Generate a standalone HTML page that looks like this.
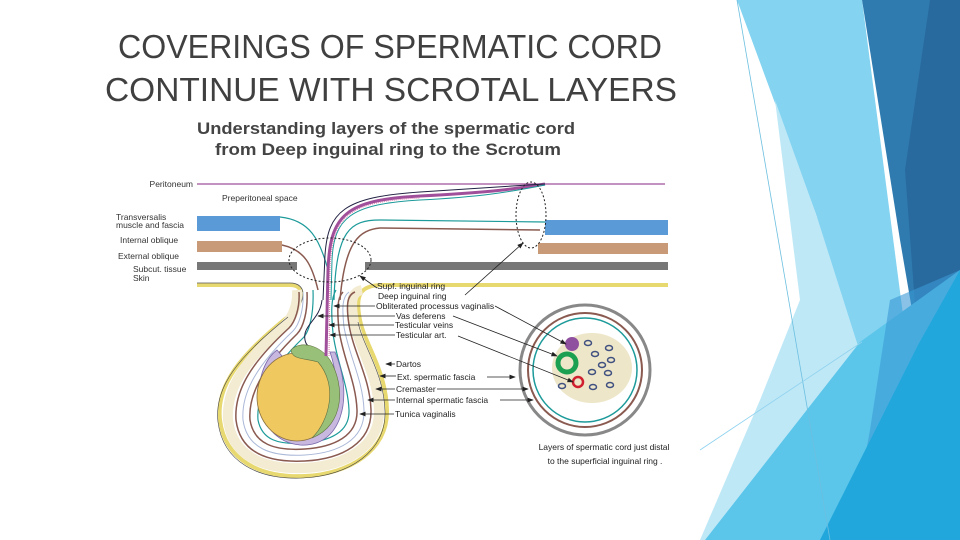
<!DOCTYPE html>
<html><head><meta charset="utf-8"><style>
html,body{margin:0;padding:0;background:#fff;}
body{width:960px;height:540px;overflow:hidden;position:relative;font-family:"Liberation Sans",sans-serif;}
.t{position:absolute;left:0;width:780px;text-align:center;color:#404040;font-size:34px;line-height:34px;white-space:nowrap;}
.t span{display:inline-block;}
</style></head><body>
<svg width="960" height="540" style="position:absolute;left:0;top:0">
<defs>
<marker id="a" markerWidth="8" markerHeight="6" refX="7" refY="3" orient="auto"><path d="M0,0L8,3L0,6z" fill="#222"/></marker>
</defs>
<polygon points="737,0 862,0 905,330 880,540 840,540 817,217" fill="#83d3f1"/>
<polygon points="775,100 817,217 872,390 790,470 735,540 700,540 760,400 800,300" fill="#bfe8f7"/>
<polygon points="862,0 960,0 960,270 918,345 900,240" fill="#2f7bb0"/>
<polygon points="930,0 960,0 960,270 918,345 905,170" fill="#286a9e"/>
<polygon points="860,342 960,270 960,540 705,540" fill="#5bc5ea"/>
<polygon points="890,300 960,270 960,540 850,540 870,430" fill="#3a9ad6" opacity="0.6"/>
<polygon points="918,345 960,270 960,540 820,540" fill="#22a7dc"/>
<line x1="737" y1="0" x2="830" y2="540" stroke="#6cbfe0" stroke-width="0.8"/>
<line x1="700" y1="450" x2="862" y2="342" stroke="#8fd2ee" stroke-width="0.8"/>

<text x="386" y="134" font-size="17" font-weight="bold" fill="#444" text-anchor="middle" textLength="378" lengthAdjust="spacingAndGlyphs">Understanding layers of the spermatic cord</text>
<text x="388" y="155" font-size="17" font-weight="bold" fill="#444" text-anchor="middle" textLength="346" lengthAdjust="spacingAndGlyphs">from Deep inguinal ring to the Scrotum</text>

<g font-size="8.5" fill="#333">
<text x="193" y="187" text-anchor="end">Peritoneum</text>
<text x="222" y="201">Preperitoneal space</text>
<text x="116" y="220">Transversalis</text>
<text x="116" y="228">muscle and fascia</text>
<text x="120" y="243">Internal oblique</text>
<text x="118" y="259">External oblique</text>
<text x="133" y="272">Subcut. tissue</text>
<text x="133" y="281">Skin</text>
</g>
<line x1="197" y1="184" x2="665" y2="184" stroke="#a0509a" stroke-width="1.2"/>
<rect x="197" y="216" width="83" height="15" fill="#5a9ad6"/>
<rect x="545" y="220" width="123" height="15" fill="#5a9ad6"/>
<rect x="197" y="241" width="85" height="11" fill="#c89a78"/>
<rect x="538" y="243" width="130" height="11" fill="#c89a78"/>
<rect x="197" y="262" width="100" height="8" fill="#777"/>
<rect x="365" y="262" width="303" height="8" fill="#777"/>
<path d="M280,217 C310,220 320,240 328,270" stroke="#1d9a9a" fill="none" stroke-width="1.2"/>
<path d="M282,245 C305,250 312,265 318,290" stroke="#8a5a50" fill="none" stroke-width="1.5"/>
<path d="M340,300 C345,240 360,230 380,228 L540,230" stroke="#8a5a50" fill="none" stroke-width="1.5"/>
<path d="M334,300 C336,230 350,220 380,220 L545,222" stroke="#1d9a9a" fill="none" stroke-width="1.2"/>
<path d="M197,285 L290,285 C305,285 305,300 290,315 C240,355 216,385 220,420 C225,460 260,478 305,476 C350,474 388,450 387,410 C386,370 365,345 360,320 C355,295 360,286 380,285 L668,285" stroke="#e8d870" stroke-width="4" fill="none"/>
<path d="M197,283 L290,283 C307,283 307,300 292,315" stroke="#555" stroke-width="0.8" fill="none"/>
<path d="M297,290 C298,305 292,318 285,325 C245,360 226,388 228,420 C232,455 262,470 305,468 C345,466 380,447 379,410 C378,375 360,350 354,322 C350,300 352,292 362,290" stroke="#f3ecd2" stroke-width="10" fill="none"/>
<path d="M299,292 C300,308 295,322 289,328 C252,362 234,390 236,420 C240,452 266,463 305,461 C342,459 372,443 371,410 C370,378 354,354 349,325 C346,305 347,295 355,292" stroke="#8a5a50" stroke-width="1.5" fill="none"/>
<path d="M303,292 C304,310 299,325 293,331 C258,364 241,392 243,420 C247,448 270,457 305,455 C338,453 365,440 364,410 C363,380 349,356 344,327 C342,308 342,297 349,292" stroke="#aab8d8" stroke-width="1" fill="none"/>
<path d="M307,292 C308,312 303,328 297,334 C264,366 248,394 250,420 C254,444 274,451 305,449 C334,447 358,436 357,410 C356,382 343,358 339,330 C337,310 337,298 343,292" stroke="#8a5a50" stroke-width="1.5" fill="none"/>
<path d="M313,290 C314,315 309,332 303,338 C272,368 256,396 258,420 C262,440 278,445 305,443 C330,441 350,432 349,410 C348,384 336,360 333,333 C331,312 331,298 336,290" stroke="#1d9a9a" stroke-width="1.2" fill="none"/>
<path d="M290,315 C240,355 216,385 220,420 C225,460 260,478 305,476 C350,474 388,450 387,410 C386,370 365,345 360,320" stroke="#444" stroke-width="0.6" fill="none" transform="translate(-2,2)"/>
<path d="M322,300 C320,320 302,325 305,340 C307,350 315,345 315,352" stroke="#224" stroke-width="1" fill="none"/>
<path d="M277,350 C250,370 250,440 300,445 C340,448 355,400 335,352 L330,352 C345,395 330,440 300,438 C262,435 262,375 282,356 Z" fill="#c8b8e0" stroke="#7766aa" stroke-width="0.8"/>
<ellipse cx="297" cy="397" rx="40" ry="44" fill="#f0c860" stroke="#8a7040" stroke-width="0.8"/>
<path d="M291,350 C300,340 320,345 330,360 C345,385 345,425 312,438 C330,420 338,385 318,362 C305,358 292,360 291,350 Z" fill="#98c078" stroke="#607040" stroke-width="0.6"/>
<path d="M326,356 L328,270 C330,215 345,200 420,196 C480,193 510,190 545,184" stroke="#a0509a" stroke-width="3" fill="none"/>
<path d="M323,300 L325,255 C328,212 343,197 420,192 C480,188 510,186 545,184" stroke="#224" stroke-width="1" fill="none"/>
<path d="M331,300 L332,260 C334,218 350,204 420,200 C480,197 510,192 545,185" stroke="#1d9a9a" stroke-width="1" fill="none"/>
<path d="M329,356 L330,270 C332,216 347,202 420,198" stroke="#e080b0" stroke-width="1" stroke-dasharray="1,1" fill="none"/>
<ellipse cx="330" cy="260" rx="41" ry="22" stroke="#222" stroke-width="1" stroke-dasharray="2,2" fill="none"/>
<ellipse cx="531" cy="215" rx="15" ry="33" stroke="#222" stroke-width="1" stroke-dasharray="2,2" fill="none"/>
<circle cx="585" cy="370" r="65" fill="#fff" stroke="#888" stroke-width="3"/>
<circle cx="585" cy="370" r="57" fill="none" stroke="#8a5a50" stroke-width="2"/>
<circle cx="585" cy="370" r="52" fill="none" stroke="#1d9a9a" stroke-width="1.5"/>
<ellipse cx="592" cy="368" rx="40" ry="35" fill="#ede6c8"/>
<circle cx="572" cy="344" r="7" fill="#9050a0"/>
<circle cx="567" cy="363" r="9" fill="none" stroke="#1aa050" stroke-width="5"/>
<circle cx="578" cy="382" r="5" fill="none" stroke="#d02030" stroke-width="2.5"/>
<g fill="none" stroke="#405080" stroke-width="1.5">
<ellipse cx="588" cy="343" rx="3.5" ry="2.5"/><ellipse cx="609" cy="348" rx="3.5" ry="2.5"/>
<ellipse cx="595" cy="354" rx="3.5" ry="2.5"/><ellipse cx="611" cy="360" rx="3.5" ry="2.5"/>
<ellipse cx="592" cy="372" rx="3.5" ry="2.5"/><ellipse cx="608" cy="373" rx="3.5" ry="2.5"/>
<ellipse cx="593" cy="387" rx="3.5" ry="2.5"/><ellipse cx="610" cy="385" rx="3.5" ry="2.5"/>
<ellipse cx="562" cy="386" rx="3.5" ry="2.5"/><ellipse cx="602" cy="365" rx="3.5" ry="2.5"/>
</g>
<g font-size="8.5" fill="#222">
<text x="377" y="289">Supf. inguinal ring</text>
<text x="378" y="299">Deep inguinal ring</text>
<text x="376" y="309">Obliterated processus vaginalis</text>
<text x="396" y="319">Vas deferens</text>
<text x="395" y="328">Testicular veins</text>
<text x="396" y="338">Testicular art.</text>
<text x="396" y="367">Dartos</text>
<text x="397" y="380">Ext. spermatic fascia</text>
<text x="396" y="392">Cremaster</text>
<text x="396" y="403">Internal spermatic fascia</text>
<text x="395" y="417">Tunica vaginalis</text>
<text x="604" y="450" text-anchor="middle">Layers of spermatic cord just distal</text>
<text x="605" y="464" text-anchor="middle">to the superficial inguinal ring .</text>
</g>
<g stroke="#222" stroke-width="0.8" fill="none" marker-end="url(#a)">
<line x1="377" y1="288" x2="360" y2="276"/>
<line x1="465" y1="295" x2="523" y2="243"/>
<line x1="375" y1="306" x2="334" y2="306"/>
<line x1="395" y1="316" x2="318" y2="316"/>
<line x1="394" y1="325" x2="329" y2="325"/>
<line x1="395" y1="335" x2="330" y2="335"/>
<line x1="495" y1="306" x2="566" y2="344"/>
<line x1="453" y1="316" x2="557" y2="356"/>
<line x1="458" y1="336" x2="573" y2="382"/>
<line x1="395" y1="364" x2="386" y2="364"/>
<line x1="396" y1="376" x2="380" y2="376"/>
<line x1="395" y1="389" x2="376" y2="389"/>
<line x1="395" y1="400" x2="368" y2="400"/>
<line x1="394" y1="414" x2="360" y2="414"/>
<line x1="487" y1="377" x2="515" y2="377"/>
<line x1="437" y1="389" x2="528" y2="389"/>
<line x1="500" y1="400" x2="533" y2="400"/>
</g>
<text x="390" y="58" font-size="33" fill="#404040" text-anchor="middle" textLength="544" lengthAdjust="spacingAndGlyphs">COVERINGS OF SPERMATIC CORD</text>
<text x="391" y="101" font-size="33" fill="#404040" text-anchor="middle" textLength="572" lengthAdjust="spacingAndGlyphs">CONTINUE WITH SCROTAL LAYERS</text>
</svg>
</body></html>
